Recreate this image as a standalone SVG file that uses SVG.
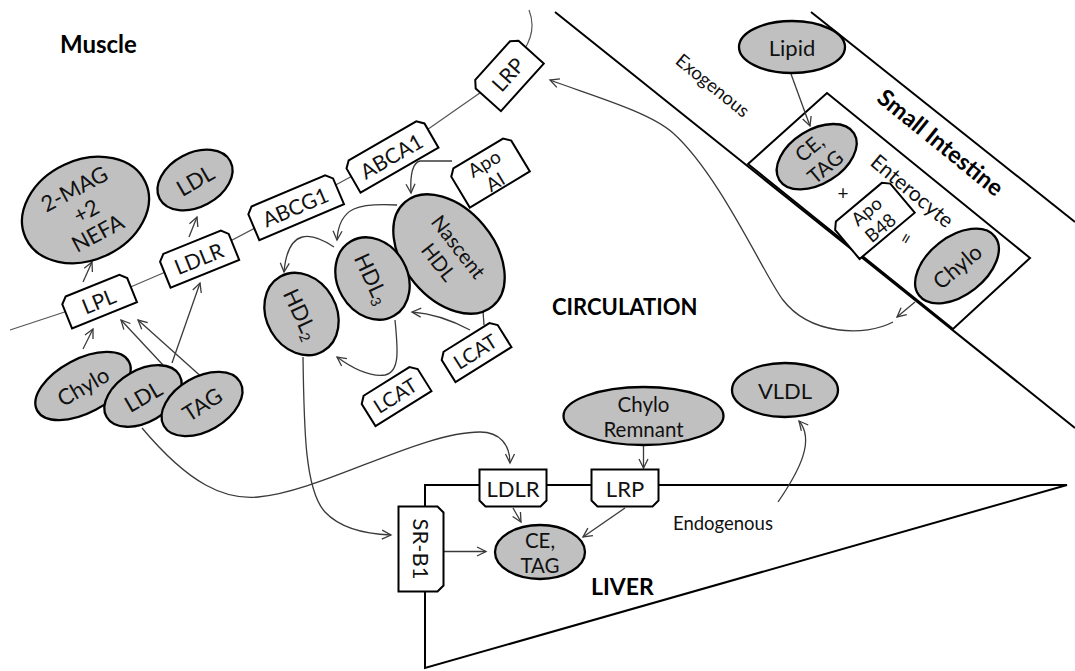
<svg xmlns="http://www.w3.org/2000/svg" width="1075" height="671" viewBox="0 0 1075 671">
<style>
.lbl{font-family:Lato,'Liberation Sans',sans-serif;font-size:21px;fill:#111;text-anchor:middle;dominant-baseline:central}
.el{font-size:22px}
.two{font-size:20.5px}
.hd{font-family:Lato,'Liberation Sans',sans-serif;font-weight:bold;font-size:23px;fill:#000}
.sm{font-size:18.5px}
.box{fill:#fff;stroke:#000;stroke-width:2;stroke-linejoin:miter}
.ell{fill:#c0c0c0;stroke:#000;stroke-width:2.3}
.mem{fill:none;stroke:#555;stroke-width:1.2}
.str{fill:none;stroke:#000;stroke-width:2}
.arr{fill:none;stroke:#3a3a3a;stroke-width:1.3;marker-end:url(#ah)}
.ln{fill:none;stroke:#3a3a3a;stroke-width:1.3}
</style>
<defs>
<marker id="ah" markerUnits="userSpaceOnUse" markerWidth="12" markerHeight="12" refX="10" refY="5" orient="auto" viewBox="0 0 12 10">
<path d="M1,0.5 L10,5 L1,9.5" fill="none" stroke="#3a3a3a" stroke-width="1.3"/>
</marker>
</defs>
<rect width="1075" height="671" fill="#fff"/>

<g id="structure">
<path class="str" d="M555 12 L1075 428"/>
<path class="str" d="M811 12 L1075 222"/>
<polygon class="str" points="748,164 827,93 1030,258 953,329"/>
<path class="str" d="M425 507 L425 485 L1067 485 L425 668 L425 592"/>
<path class="mem" d="M10 330 L98 301 L198 258 L295 207 L391 155 L507 74 L524 50 Q537 30 529 10"/>
</g>

<g id="connectors">
<path class="arr" d="M83 282 L92 262"/>
<path class="arr" d="M189 237 L197 217"/>
<path class="arr" d="M83 349 L93 329"/>
<path class="arr" d="M163 365 L121 320"/>
<path class="arr" d="M205 380 L138 320"/>
<path class="arr" d="M172 363 L200 283"/>
<path class="arr" d="M452 161 L420 161 C412 163 410 175 411 193"/>
<path class="arr" d="M397 205 C360 203 339 206 337 240"/>
<path class="arr" d="M334 247 C312 232 288 227 284 272"/>
<path class="ln" d="M483 311 L484 325"/>
<path class="arr" d="M470 330 Q440 314 412 312"/>
<path class="arr" d="M395 320 C398 350 400 372 385 375 C370 377 352 368 337 357"/>
<path class="arr" d="M303 357 C304 430 305 490 325 512 C340 528 365 534 391 535"/>
<path class="arr" d="M142 428 C190 485 225 500 258 497 C320 492 420 432 480 432 C500 432 510 445 510 463"/>
<path class="arr" d="M643.5 445 L643.5 468"/>
<path class="arr" d="M513 508 L521 522"/>
<path class="arr" d="M625 508 L583 537"/>
<path class="arr" d="M443.5 551.5 L486 551.5"/>
<path class="arr" d="M778 502 C800 470 815 440 799 421"/>
<path class="arr" d="M915 302 L897 317"/>
<path class="arr" d="M893 322 C865 337 810 335 783 300 C765 277 720 175 673 133 C650 112 590 95 550 80"/>
<path class="arr" d="M791 74 L810 126"/>
</g>

<g id="n-2mag" transform="translate(85.5,210)">
<ellipse class="ell" rx="66" ry="50" transform="rotate(-25)"/>
<text class="lbl el" transform="rotate(-28)"><tspan x="0" y="-25">2-MAG</tspan><tspan x="0" y="0">+2</tspan><tspan x="0" y="25">NEFA</tspan></text>
</g>
<g id="n-ldl-top" transform="translate(195,180)">
<ellipse class="ell" rx="40" ry="27" transform="rotate(-28)"/>
<text class="lbl el" transform="rotate(-30)">LDL</text>
</g>
<g id="n-chylo-m" transform="translate(83,386)">
<ellipse class="ell" rx="52" ry="27" transform="rotate(-28)"/>
<text class="lbl el" transform="rotate(-30)">Chylo</text>
</g>
<g id="n-ldl-m" transform="translate(143,396)">
<ellipse class="ell" rx="42" ry="26" transform="rotate(-30)"/>
<text class="lbl el" transform="rotate(-30)">LDL</text>
</g>
<g id="n-tag-m" transform="translate(202,404)">
<ellipse class="ell" rx="44" ry="27" transform="rotate(-30)"/>
<text class="lbl el" transform="rotate(-33)">TAG</text>
</g>

<g id="n-lpl" transform="translate(98.5,300.5) rotate(-22)">
<path class="box" d="M-29,-16 L29,-16 L35,-10 L35,16 L-35,16 L-35,-10Z"/>
<text class="lbl">LPL</text>
</g>
<g id="n-ldlr-m" transform="translate(198.5,258) rotate(-22)">
<path class="box" d="M-31,-17 L31,-17 L37,-11 L37,17 L-37,17 L-37,-11Z"/>
<text class="lbl">LDLR</text>
</g>
<g id="n-abcg1" transform="translate(295,206.5) rotate(-23)">
<path class="box" d="M-40,-17 L40,-17 L46,-11 L46,17 L-46,17 L-46,-11Z"/>
<text class="lbl">ABCG1</text>
</g>
<g id="n-abca1" transform="translate(391,155.5) rotate(-30)">
<path class="box" d="M-39,-17 L39,-17 L45,-11 L45,17 L-45,17 L-45,-11Z"/>
<text class="lbl">ABCA1</text>
</g>
<g id="n-lrp-m" transform="translate(507.5,74) rotate(-48)">
<path class="box" d="M-26,-20 L26,-20 L32,-14 L32,20 L-32,20 L-32,-14Z"/>
<text class="lbl">LRP</text>
</g>
<g id="n-apoai" transform="translate(489,171.5) rotate(-31)">
<path class="box" d="M-29,-21 L29,-21 L35,-15 L35,21 L-35,21 L-35,-15Z"/>
<text class="lbl" style="font-size:19px"><tspan x="0" y="-10.5">Apo</tspan><tspan x="0" y="11">AI</tspan></text>
</g>

<g id="n-nascent" transform="translate(449,254)">
<ellipse class="ell" rx="68" ry="45" transform="rotate(50)"/>
<text class="lbl two" transform="rotate(52)"><tspan x="0" y="-12.5">Nascent</tspan><tspan x="0" y="12.5">HDL</tspan></text>
</g>
<g id="n-hdl3" transform="translate(372.5,278.5)">
<ellipse class="ell" rx="43" ry="35" transform="rotate(60)"/>
<text class="lbl el" transform="rotate(65)">HDL<tspan font-size="14" dy="6">3</tspan></text>
</g>
<g id="n-hdl2" transform="translate(301.5,314)">
<ellipse class="ell" rx="43" ry="35" transform="rotate(60)"/>
<text class="lbl el" transform="rotate(65)">HDL<tspan font-size="14" dy="6">2</tspan></text>
</g>
<g id="n-lcat-r" transform="translate(475,351) rotate(-32)">
<path class="box" d="M-27,-16 L27,-16 L33,-10 L33,16 L-33,16 L-33,-10Z"/>
<text class="lbl" style="font-size:20px">LCAT</text>
</g>
<g id="n-lcat-l" transform="translate(395,395) rotate(-32)">
<path class="box" d="M-27,-16 L27,-16 L33,-10 L33,16 L-33,16 L-33,-10Z"/>
<text class="lbl" style="font-size:20px">LCAT</text>
</g>

<g id="n-lipid" transform="translate(792,47)">
<ellipse class="ell" rx="53" ry="26"/>
<text class="lbl el">Lipid</text>
</g>
<g id="n-cetag-i" transform="translate(816.7,156.7)">
<ellipse class="ell" rx="44" ry="27" transform="rotate(-32)"/>
<text class="lbl two" transform="rotate(-40)"><tspan x="0" y="-12">CE,</tspan><tspan x="0" y="12.5">TAG</tspan></text>
</g>
<g id="n-apob48" transform="translate(873,219) rotate(-40)">
<path class="box" d="M-30,-22 L30,-22 L36,-16 L36,22 L-36,22 L-36,-16Z"/>
<text class="lbl" style="font-size:18.5px"><tspan x="0" y="-10.5">Apo</tspan><tspan x="0" y="11">B48</tspan></text>
</g>
<g id="n-chylo-i" transform="translate(957,266)">
<ellipse class="ell" rx="48" ry="29" transform="rotate(-38)"/>
<text class="lbl el" transform="rotate(-40)">Chylo</text>
</g>

<g id="n-remnant" transform="translate(643.5,416)">
<ellipse class="ell" rx="80" ry="29"/>
<text class="lbl two"><tspan x="0" y="-12">Chylo</tspan><tspan x="0" y="12.5">Remnant</tspan></text>
</g>
<g id="n-vldl" transform="translate(785,390)">
<ellipse class="ell" rx="53" ry="27"/>
<text class="lbl el">VLDL</text>
</g>
<g id="n-ldlr-l" transform="translate(513,488)">
<path class="box" d="M-33.5,-18.5 L33.5,-18.5 L33.5,12.5 L27.5,18.5 L-27.5,18.5 L-33.5,12.5Z"/>
<text class="lbl el">LDLR</text>
</g>
<g id="n-lrp-l" transform="translate(625,488)">
<path class="box" d="M-33.5,-18.5 L33.5,-18.5 L33.5,12.5 L27.5,18.5 L-27.5,18.5 L-33.5,12.5Z"/>
<text class="lbl el">LRP</text>
</g>
<g id="n-srb1" transform="translate(421,549) rotate(90)">
<path class="box" d="M-36.5,-22.5 L36.5,-22.5 L42.5,-16.5 L42.5,22.5 L-42.5,22.5 L-42.5,-16.5Z"/>
<text class="lbl el">SR-B1</text>
</g>
<g id="n-cetag-l" transform="translate(540,552)">
<ellipse class="ell" rx="45" ry="27"/>
<text class="lbl two"><tspan x="0" y="-12">CE,</tspan><tspan x="0" y="12.5">TAG</tspan></text>
</g>

<g id="labels">
<text class="hd" x="60" y="53" style="font-size:24px">Muscle</text>
<text class="hd" x="552" y="315" style="font-size:22px">CIRCULATION</text>
<text class="hd" x="591" y="595">LIVER</text>
<text class="hd" text-anchor="middle" dominant-baseline="central" transform="translate(941,142) rotate(39)" style="font-size:23.5px">Small Intestine</text>
<text class="lbl sm" transform="translate(713,85) rotate(39)">Exogenous</text>
<text class="lbl" transform="translate(913,190) rotate(40)">Enterocyte</text>
<text class="lbl" style="font-size:18.5px;text-anchor:start" x="673" y="523">Endogenous</text>
<text class="lbl" style="font-size:19px" x="843" y="192">+</text>
<text class="lbl" style="font-size:19px" transform="translate(905,238) rotate(-60)">=</text>
</g>
</svg>
